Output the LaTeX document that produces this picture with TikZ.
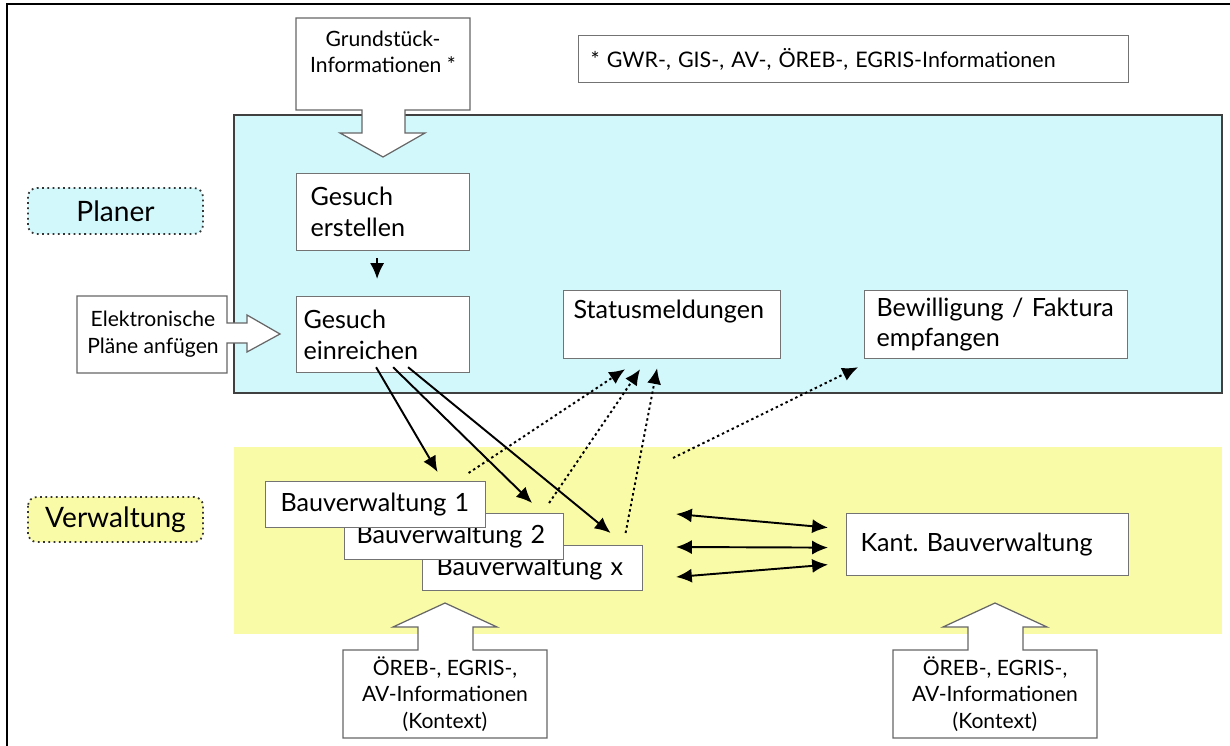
\documentclass[tikz,border=0pt]{standalone}
\usepackage{fontspec}
\setmainfont{Lato}
\usepackage{xcolor}
\usetikzlibrary{positioning, calc, arrows.meta}

\definecolor{planercyan}{RGB}{211,248,252}
\definecolor{verwgelb}{RGB}{250,251,166}

\tikzset{
  box/.style={draw=black!55, fill=white, line width=0.7pt, anchor=north west, align=left, inner ysep=0pt, font=\fontsize{14.3}{17.5}\selectfont},
  callout/.style={draw=black!60, fill=white, line width=0.7pt, line join=miter},
  calltext/.style={align=center, font=\fontsize{12}{15}\selectfont},
  rolle/.style={draw=black!80, dotted, line width=1pt, rounded corners=5pt},
  fluss/.style={-{Latex[length=9pt,width=8pt]}, line width=1.1pt},
  meldung/.style={-{Latex[length=9pt,width=8pt]}, line width=1.1pt, dash pattern=on 1.4pt off 1.7pt},
  austausch/.style={{Latex[length=9pt,width=8pt]}-{Latex[length=9pt,width=8pt]}, line width=1.1pt}
}

\begin{document}
\frenchspacing
\begin{tikzpicture}[x=0.02cm, y=-0.02cm]
  \useasboundingbox (0,0) rectangle (1230,746);
  \fill[white] (0,0) rectangle (1230,746);
  \draw[line width=1.3pt] (7,746) -- (7,4) -- (1230,4);

  \draw[fill=planercyan, draw=black!75, line width=1.2pt] (234,115) rectangle (1222,393);
  \fill[verwgelb] (234,447) rectangle (1222,634);

  \draw[rolle, fill=planercyan] (28,188) rectangle (203,234);
  \node[font=\fontsize{16}{18}\selectfont] (planer) at (115.5,211) {Planer};
  \draw[rolle, fill=verwgelb] (28,497) rectangle (203,542);
  \node[font=\fontsize{16}{18}\selectfont] (verwaltung) at (115.5,519.5) {Verwaltung};

  \draw[callout] (296,18) -- (470,18) -- (470,110) -- (405,110) -- (405,133) -- (425,133) -- (383,157) -- (340,133) -- (362,133) -- (362,110) -- (296,110) -- cycle;
  \node[calltext] (grundinfo) at (383,52) {Grundstück-\\Informationen *};
  \draw[callout] (77,296) -- (227,296) -- (227,323) -- (247,323) -- (247,315) -- (280,334) -- (247,352) -- (247,343) -- (227,343) -- (227,373) -- (77,373) -- cycle;
  \node[calltext] (plaene) at (153,334) {Elektronische\\Pläne anfügen};
  \draw[callout] (343,650) -- (418,650) -- (418,627) -- (393,627) -- (445,603) -- (497,627) -- (473,627) -- (473,650) -- (547,650) -- (547,738) -- (343,738) -- cycle;
  \node[calltext] (oreblinks) at (445,694) {ÖREB-, EGRIS-,\\AV-Informationen\\(Kontext)};
  \draw[callout] (893,650) -- (968,650) -- (968,627) -- (943,627) -- (995,603) -- (1047,627) -- (1023,627) -- (1023,650) -- (1097,650) -- (1097,738) -- (893,738) -- cycle;
  \node[calltext] (orebrechts) at (995,694) {ÖREB-, EGRIS-,\\AV-Informationen\\(Kontext)};

  \node[box, minimum width=11cm, minimum height=0.94cm, inner xsep=0.24cm, text width=10.52cm, font=\fontsize{12.2}{15}\selectfont] (gwr) at (578,35) {* GWR-, GIS-, AV-, ÖREB-, EGRIS-Informationen};

  \node[box, minimum width=3.46cm, minimum height=1.54cm, inner xsep=0.28cm, text width=2.9cm] (erstellen) at (296,173) {Gesuch\\erstellen};
  \node[box, minimum width=3.46cm, minimum height=1.52cm, inner xsep=0.14cm, text width=3.18cm] (einreichen) at (296,296) {Gesuch\\einreichen};
  \node[box, minimum width=4.34cm, minimum height=1.36cm, inner xsep=0.2cm, text width=3.94cm] (status) at (563,290) {Statusmeldungen\\\mbox{}};
  \node[box, minimum width=5.26cm, minimum height=1.36cm, inner xsep=0.24cm, text width=4.78cm] (bewilligung) at (864,290) {Bewilligung / Faktura\\empfangen};

  \node[box, minimum width=4.4cm, minimum height=0.9cm, inner xsep=0.28cm, text width=3.84cm] (bvx) at (422,545) {Bauverwaltung x};
  \node[box, minimum width=4.38cm, minimum height=0.92cm, inner xsep=0.24cm, text width=3.9cm] (bv2) at (344,513) {Bauverwaltung 2};
  \node[box, minimum width=4.4cm, minimum height=0.92cm, inner xsep=0.3cm, text width=3.8cm] (bv1) at (265,481) {Bauverwaltung 1};
  \node[box, minimum width=5.64cm, minimum height=1.24cm, inner xsep=0.28cm, text width=5.08cm] (kant) at (846,513) {Kant. Bauverwaltung};

  \draw[fluss] ($(erstellen.south)+(-6,7)$) -- ($(einreichen.north)+(-6,-17)$);
  \draw[fluss] ($(einreichen.south)+(-7,-6)$) -- ($(bv1.north)+(62,-9)$);
  \draw[fluss] ($(einreichen.south)+(10,-6)$) -- ($(bv2.north)+(78,-10)$);
  \draw[fluss] ($(einreichen.south)+(25,-6)$) -- ($(bvx.north)+(78,-12)$);

  \draw[meldung] ($(bv1.north)+(93,-8)$) -- ($(status.south)+(-47,10)$);
  \draw[meldung] ($(bv2.north)+(95,-10)$) -- ($(status.south)+(-32,10)$);
  \draw[meldung] ($(bvx.north)+(93,-12)$) -- ($(status.south)+(-15,9)$);
  \coordinate (kantmeldung) at (673,458);
  \draw[meldung] (kantmeldung) -- ($(bewilligung.south west)+(-6,8)$);

  \coordinate (bvlink1) at (676,514);
  \coordinate (bvlink2) at (676,547);
  \coordinate (bvlink3) at (676,577);
  \draw[austausch] (bvlink1) -- ($(kant.west)+(-18,-17)$);
  \draw[austausch] (bvlink2) -- ($(kant.west)+(-18,3)$);
  \draw[austausch] (bvlink3) -- ($(kant.west)+(-18,20)$);
\end{tikzpicture}
\end{document}
